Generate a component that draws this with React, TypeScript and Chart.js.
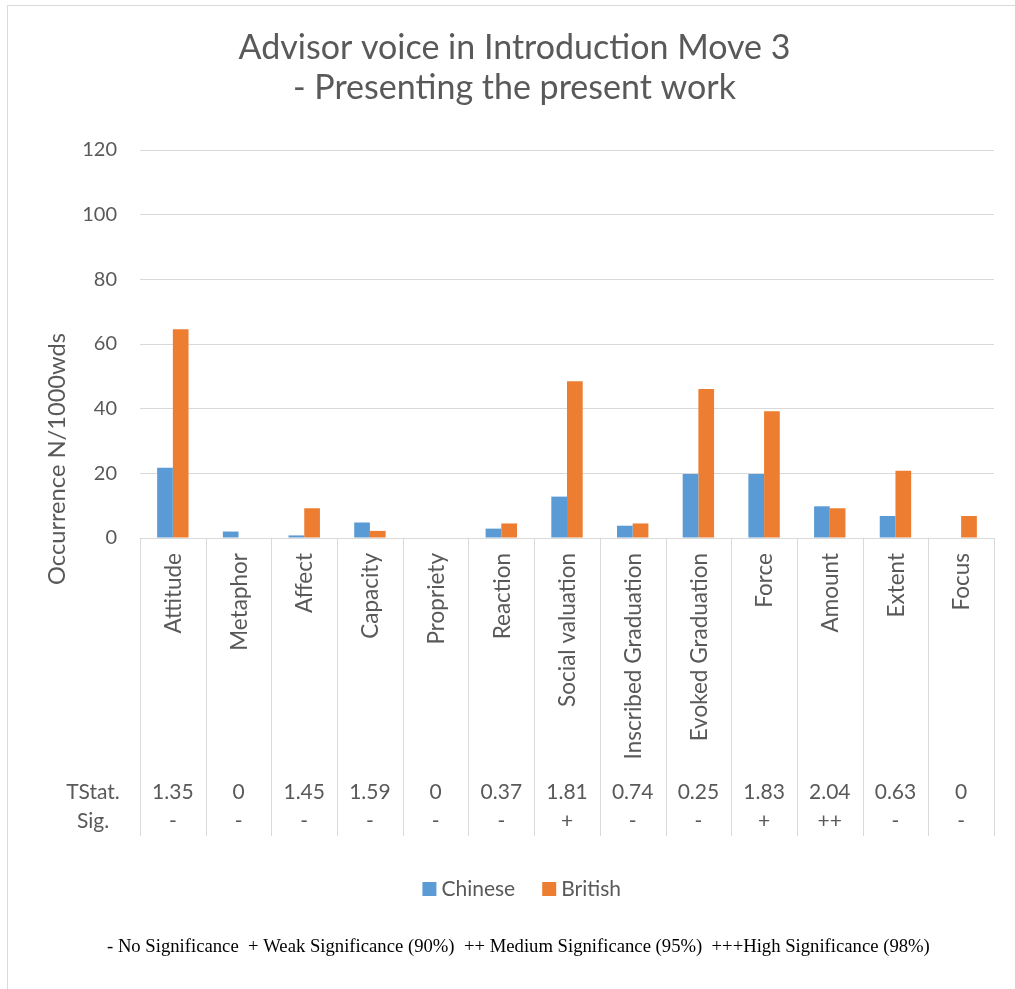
import React, { useEffect, useRef } from "react";
import { Chart, registerables } from "chart.js";

Chart.register(...registerables);

const categories = [
  "Attitude",
  "Metaphor",
  "Affect",
  "Capacity",
  "Propriety",
  "Reaction",
  "Social valuation",
  "Inscribed Graduation",
  "Evoked Graduation",
  "Force",
  "Amount",
  "Extent",
  "Focus",
];
const chineseValues = [21.7, 2.0, 0.8, 4.8, 0, 2.9, 12.8, 3.8, 19.8, 19.8, 9.8, 6.8, 0];
const britishValues = [64.6, 0, 9.2, 2.2, 0, 4.5, 48.5, 4.5, 46.1, 39.2, 9.2, 20.8, 6.8];
const tStatValues = ["1.35", "0", "1.45", "1.59", "0", "0.37", "1.81", "0.74", "0.25", "1.83", "2.04", "0.63", "0"];
const sigValues = ["-", "-", "-", "-", "-", "-", "+", "-", "-", "+", "++", "-", "-"];
const rowHeaders = ["TStat.", "Sig."];
const seriesNames = ["Chinese", "British"];
const seriesColors = ["#5B9BD5", "#ED7D31"];
const titleLines = ["Advisor voice in Introduction Move 3", "- Presenting the present work"];
const yAxisTitle = "Occurrence N/1000wds";
const yMin = 0;
const yMax = 120;
const yStep = 20;
const footnote =
  "- No Significance  + Weak Significance (90%)  ++ Medium Significance (95%)  +++High Significance (98%)";

const TEXT = "#595959";
const GRID = "#d9d9d9";
const SANS = "Lato, 'Open Sans', sans-serif";
const SERIF = "'Liberation Serif', 'Times New Roman', serif";

function fitFont(ctx: CanvasRenderingContext2D, text: string, family: string, weight: string, base: number, target: number) {
  ctx.font = `${weight} ${base}px ${family}`;
  const w = ctx.measureText(text).width;
  const size = w > 0 ? (base * target) / w : base;
  return `${weight} ${size.toFixed(2)}px ${family}`;
}

const decorPlugin = {
  id: "decor",
  beforeDraw(chart: any) {
    const { ctx } = chart;
    ctx.save();
    ctx.fillStyle = "#ffffff";
    ctx.fillRect(0, 0, chart.width, chart.height);
    ctx.strokeStyle = GRID;
    ctx.lineWidth = 1;
    ctx.strokeRect(7.5, 5.5, 1200, 1200);
    ctx.restore();
  },
  afterDraw(chart: any) {
    const { ctx, chartArea } = chart;
    const x = chart.scales.x;
    const n = categories.length;
    const catW = x.getPixelForValue(1) - x.getPixelForValue(0);
    const tableBottom = 836;
    ctx.save();

    // category separators through label + table area
    ctx.strokeStyle = GRID;
    ctx.lineWidth = 1;
    for (let i = 0; i <= n; i++) {
      const px = Math.round(x.getPixelForValue(0) - catW / 2 + i * catW) + 0.5;
      ctx.beginPath();
      ctx.moveTo(px, chartArea.bottom);
      ctx.lineTo(px, tableBottom);
      ctx.stroke();
    }

    // rotated category labels
    ctx.fillStyle = TEXT;
    ctx.font = `22.5px ${SANS}`;
    ctx.textAlign = "right";
    ctx.textBaseline = "middle";
    categories.forEach((c, i) => {
      const cx = x.getPixelForValue(i) + 1;
      ctx.save();
      ctx.translate(cx, chartArea.bottom + 15);
      ctx.rotate(-Math.PI / 2);
      ctx.fillText(c, 0, 0);
      ctx.restore();
    });

    // table rows
    ctx.textAlign = "center";
    ctx.textBaseline = "middle";
    ctx.font = `21px ${SANS}`;
    const rowY = [792, 821];
    tStatValues.forEach((v, i) => ctx.fillText(v, x.getPixelForValue(i), rowY[0]));
    sigValues.forEach((v, i) => ctx.fillText(v, x.getPixelForValue(i), rowY[1]));
    rowHeaders.forEach((h, r) => ctx.fillText(h, 93, rowY[r]));

    // y axis title
    ctx.save();
    ctx.font = fitFont(ctx, yAxisTitle, SANS, "normal", 24, 252);
    ctx.translate(57, 459);
    ctx.rotate(-Math.PI / 2);
    ctx.textAlign = "center";
    ctx.textBaseline = "middle";
    ctx.fillText(yAxisTitle, 0, 0);
    ctx.restore();

    // chart title
    ctx.textAlign = "center";
    ctx.textBaseline = "alphabetic";
    ctx.font = fitFont(ctx, titleLines[0], SANS, "normal", 30, 552);
    ctx.fillText(titleLines[0], 514.5, 59);
    ctx.fillText(titleLines[1], 514.5, 99);

    // legend
    ctx.font = `21px ${SANS}`;
    const box = 14;
    const gap = 5;
    const spacing = 27;
    const widths = seriesNames.map((s) => box + gap + ctx.measureText(s).width);
    const total = widths.reduce((a, b) => a + b, 0) + spacing * (seriesNames.length - 1);
    let lx = 521.7 - total / 2;
    const ly = 889;
    ctx.textAlign = "left";
    ctx.textBaseline = "middle";
    seriesNames.forEach((s, i) => {
      ctx.fillStyle = seriesColors[i];
      ctx.fillRect(lx, ly - box / 2, box, box);
      ctx.fillStyle = TEXT;
      ctx.fillText(s, lx + box + gap, ly);
      lx += widths[i] + spacing;
    });

    // footnote
    ctx.fillStyle = "#000000";
    ctx.font = fitFont(ctx, footnote, SERIF, "normal", 17.5, 823);
    ctx.textAlign = "left";
    ctx.textBaseline = "alphabetic";
    ctx.fillText(footnote, 107, 951.5);

    ctx.restore();
  },
};

export default function App() {
  const canvasRef = useRef<HTMLCanvasElement | null>(null);

  useEffect(() => {
    if (!canvasRef.current) return;
    const chart = new Chart(canvasRef.current, {
      type: "bar",
      data: {
        labels: categories,
        datasets: [
          {
            label: seriesNames[0],
            data: chineseValues,
            backgroundColor: seriesColors[0],
            categoryPercentage: 0.478,
            barPercentage: 1,
          },
          {
            label: seriesNames[1],
            data: britishValues,
            backgroundColor: seriesColors[1],
            categoryPercentage: 0.478,
            barPercentage: 1,
          },
        ],
      },
      options: {
        animation: false,
        responsive: true,
        maintainAspectRatio: false,
        layout: { padding: { left: 0, top: 150, right: 21, bottom: 451 } },
        plugins: {
          legend: { display: false },
          title: { display: false },
          tooltip: { enabled: false },
        },
        scales: {
          x: {
            display: false,
          },
          y: {
            min: yMin,
            max: yMax,
            afterFit: (s: any) => {
              s.width = 140;
            },
            ticks: {
              stepSize: yStep,
              padding: 23,
              color: TEXT,
              font: { family: SANS, size: 20 },
            },
            grid: { color: GRID, lineWidth: 1, drawTicks: false },
            border: { display: false },
          },
        },
      },
      plugins: [decorPlugin],
    });
    return () => chart.destroy();
  }, []);

  return (
    <div style={{ position: "fixed", left: 0, top: 0, width: 1015, height: 989, background: "#fff", overflow: "hidden" }}>
      <canvas ref={canvasRef} />
    </div>
  );
}
